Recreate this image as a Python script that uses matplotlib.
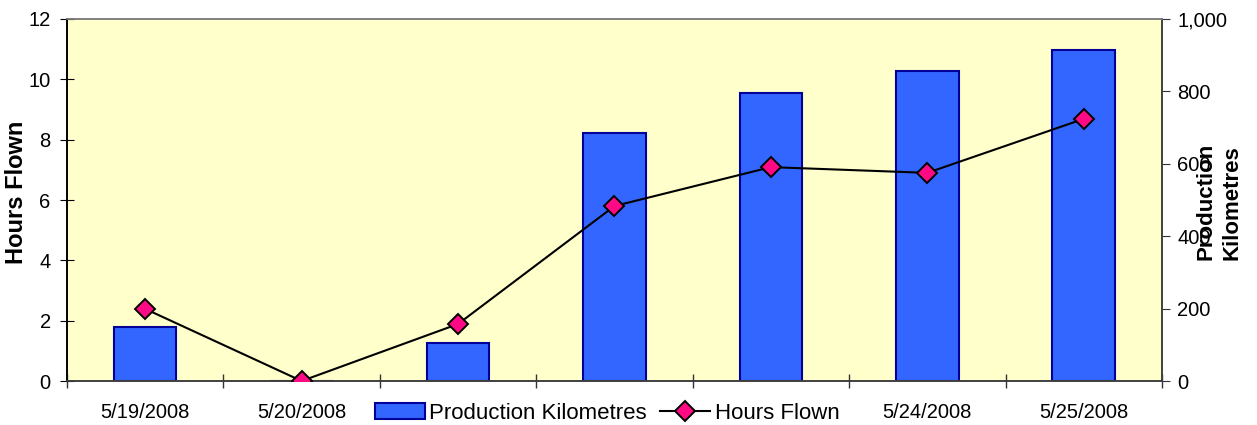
import matplotlib.pyplot as plt
import numpy as np

plt.rcParams['font.family'] = ['Liberation Sans', 'DejaVu Sans']

# Daily flight log
dates = ['5/19/2008', '5/20/2008', '5/21/2008', '5/22/2008',
         '5/23/2008', '5/24/2008', '5/25/2008']
production_km = [149, 0, 104, 684, 796, 856, 914]
hours_flown = [2.39, 0.0, 1.89, 5.80, 7.09, 6.90, 8.69]

fig = plt.figure(figsize=(12.57, 4.25), dpi=100)
ax = fig.add_axes([0.0533, 0.1035, 0.8711, 0.8518])
ax2 = ax.twinx()

x = np.arange(len(dates))

# bars on the kilometre axis, line on the hours axis
bars = ax2.bar(x, production_km, width=0.4, color='#3366FF',
               edgecolor='#000099', linewidth=1.5, zorder=2,
               label='Production Kilometres')
line, = ax.plot(x, hours_flown, color='black', linewidth=1.5,
                marker='D', markersize=10, markerfacecolor='#FF0A84',
                markeredgecolor='black', markeredgewidth=1.4,
                label='Hours Flown', zorder=5)

# keep the line on top of the bars
ax.set_zorder(ax2.get_zorder() + 1)
ax.patch.set_visible(False)
ax2.patch.set_visible(True)
fig.patch.set_facecolor('white')
ax2.set_facecolor('#FFFFCC')

ax.set_xlim(-0.5, len(dates) - 0.5)
ax.set_ylim(0, 12)
ax2.set_ylim(0, 1000)
ax.set_yticks(np.arange(0, 13, 2))
ax2.set_yticks(np.arange(0, 1001, 200))
ax2.set_yticklabels([f'{v:,}' for v in range(0, 1001, 200)])

ax.set_xticks(x)
ax.set_xticklabels(dates, fontsize=14.5)
# the legend sits over the middle dates
for lbl in ax.get_xticklabels()[2:5]:
    lbl.set_visible(False)
ax.set_xticks(np.arange(-0.5, len(dates)), minor=True)
ax.tick_params(axis='x', which='major', length=0, pad=16)
ax.tick_params(axis='x', which='minor', length=9.5, direction='inout',
               color='#333333', width=1)
ax.tick_params(axis='y', length=10.5, direction='inout', labelsize=14.5,
               color='black', pad=6.5)
ax2.tick_params(axis='y', length=6, labelsize=14.5, color='#333333', pad=5)

ax.set_ylabel('Hours Flown', fontsize=17, fontweight='bold')
ax.yaxis.set_label_coords(-0.0356, 0.52)
fig.text(0.9698, 0.527, 'Production\nKilometres', rotation=90,
         fontsize=16, fontweight='bold', ha='center', va='center',
         multialignment='left', linespacing=1.35)

for a in (ax, ax2):
    a.spines['top'].set_color('#808080')
    a.spines['right'].set_color('#404040')
    a.spines['left'].set_color('black')
    a.spines['bottom'].set_color('#404040')
    for s in a.spines.values():
        s.set_linewidth(1.2)

leg = fig.legend([bars, line], ['Production Kilometres', 'Hours Flown'],
                 loc='center', bbox_to_anchor=(0.483, 0.027), ncol=2,
                 frameon=True, fancybox=False, edgecolor='white',
                 facecolor='white', framealpha=1, fontsize=16,
                 handlelength=2.25, handletextpad=0.2, columnspacing=0.6,
                 borderpad=0.1)

fig.savefig('out.png', dpi=100)
